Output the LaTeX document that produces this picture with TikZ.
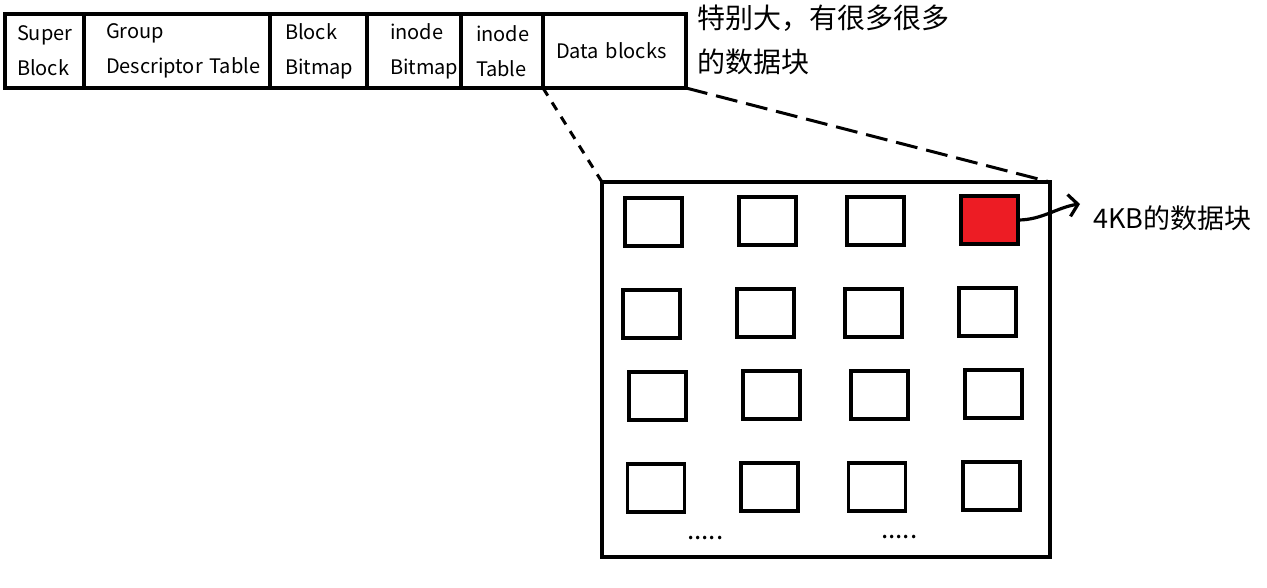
\documentclass[tikz,border=0pt]{standalone}
\usepackage{fontspec}
\setmainfont{Noto Sans CJK SC}
\usetikzlibrary{arrows.meta,positioning}
\definecolor{blockred}{RGB}{237,28,36}

\begin{document}
\begin{tikzpicture}[x=1pt, y=-1pt,
    cell/.style={draw, line width=3.2pt, outer sep=0pt, inner ysep=0pt, minimum height=74pt, align=left, font=\fontsize{20}{35}\selectfont},
    blk/.style={draw, line width=3.2pt, outer sep=0pt, inner sep=0pt, minimum width=57pt, minimum height=48pt},
    zoomline/.style={line width=3pt, dash pattern=on 9pt off 8pt},
    note/.style={inner sep=0pt, align=left, font=\fontsize{28}{44}\selectfont}
  ]
    \useasboundingbox (0,0) rectangle (1267,587);

    % one block group
    \node[cell, text width=55pt, inner xsep=12pt, anchor=north west] (super) at (5,14) {Super\\Block};
    \node[cell, text width=142pt, inner xsep=22pt, right=0pt of super] (gdt) {Group\\\mbox{Descriptor Table}};
    \node[cell, text width=67pt, inner xsep=15pt, right=0pt of gdt] (bbmap) {Block\\Bitmap};
    \node[cell, text width=48pt, inner xsep=23pt, right=0pt of bbmap] (ibmap) {inode\\Bitmap};
    \node[cell, text width=52pt, inner xsep=15pt, right=0pt of ibmap] (itab) {inode\\Table};
    \node[cell, text width=117pt, inner xsep=13pt, right=0pt of itab] (data) {Data blocks};
    \node[note, anchor=west] (big) at (697,40) {特别大，有很多很多\\的数据块};

    % zoomed data blocks
    \node[draw, line width=3.2pt, outer sep=0pt, minimum width=448pt, minimum height=375pt] (group) at (826,369.5) {};
    \foreach \x/\y/\n in {653.5/222/b11, 767.5/221/b12, 875.5/221/b13,
                          651.5/314/b21, 765.5/313/b22, 873.5/313/b23, 987.5/312/b24,
                          657.5/396/b31, 771.5/395/b32, 879.5/395/b33, 993.5/394/b34,
                          656/488/b41, 769.5/487/b42, 877/487/b43, 991.5/486/b44}
      \node[blk] (\n) at (\x,\y) {};
    \node[blk, fill=blockred] (b14) at (989.5,220) {};
    \node[inner sep=0pt, anchor=base west, font=\fontsize{26}{30}\selectfont] (dots1) at (687,539.5) {.....};
    \node[inner sep=0pt, anchor=base west, font=\fontsize{26}{30}\selectfont] (dots2) at (881,538.5) {.....};
    \node[inner sep=0pt, anchor=west, font=\fontsize{27}{30}\selectfont] (kb) at (1093,218) {4KB的数据块};

    \draw[zoomline] (itab.south east) -- (group.north west);
    \draw[zoomline, dash pattern=on 22pt off 9pt] (data.south east) -- (group.north east);
    \draw[line width=3.2pt, -{Straight Barb[length=9pt,width=22pt]}] (b14.east) .. controls +(24,0) and +(-22,3) .. ([xshift=-13pt,yshift=14pt]kb.west);
\end{tikzpicture}
\end{document}
